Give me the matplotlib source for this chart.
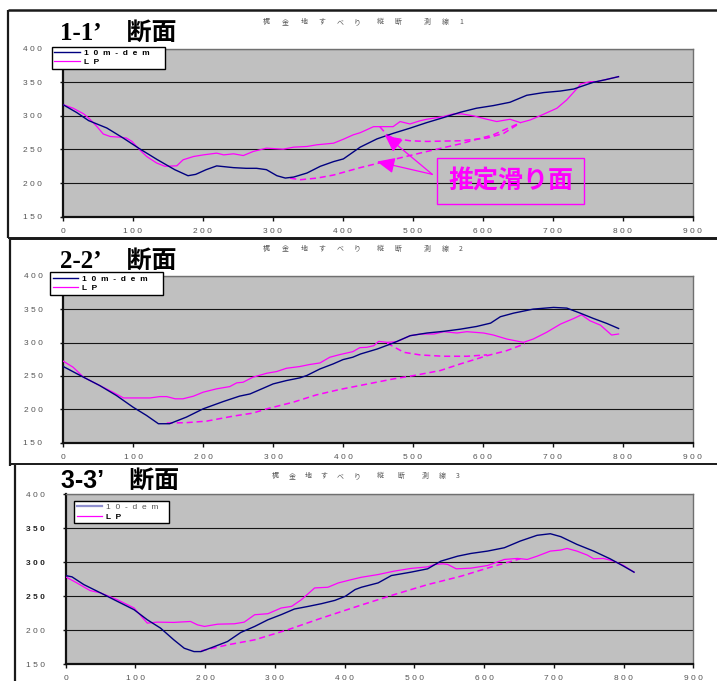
import matplotlib
matplotlib.use("Agg")
import matplotlib.pyplot as plt
from matplotlib.lines import Line2D

# ---------------------------------------------------------------- data
# Section 1-1'
s1_dem_x = [0, 20, 37, 63, 85, 110, 135, 160, 179, 190, 205, 220, 244, 262, 277, 291, 306, 318, 330,
            349, 368, 387, 401, 425, 449, 472, 496, 520, 544, 568, 591, 615, 639, 663, 687, 711, 730,
            758, 776, 794]
s1_dem_y = [317, 305, 293, 282, 268, 251, 235, 220, 211, 213, 220, 225.6, 223, 222, 222, 220, 211, 207.5,
            209, 215, 225, 232, 236, 253.5, 265.8, 274, 281.7, 290, 297.5, 305.4, 311.4, 315.3, 320.3,
            330.7, 334.7, 337, 340, 350, 354, 358.4]
s1_lp_x = [0, 15, 30, 39, 49, 58, 68, 82, 91, 99, 110, 120, 134, 146, 163, 172, 187, 201, 220, 230, 244,
           258, 272, 291, 315, 330, 349, 363, 387, 401, 415, 425, 434, 444, 453, 472, 482, 496, 510, 520,
           544, 558, 570, 587, 606, 620, 639, 654, 668, 687, 706, 720, 735, 740, 754, 763, 794]
s1_lp_y = [317, 311.4, 303, 295, 284, 273, 269.3, 268.3, 267, 262, 249.5, 239.6, 230, 225, 225.7, 234.7,
           239.6, 242, 244.6, 242, 243.6, 241, 247, 252, 250.5, 253.5, 254.5, 257, 259.4, 265.3, 271.8,
           275, 279.2, 284, 284, 284, 291.6, 288, 292.6, 295, 299, 303, 303, 300, 295, 291.6, 295, 290,
           294, 302.5, 311.4, 323.8, 341, 347.5, 351, 351, 358.4]
s1_slip_a_x = [453, 463, 472, 496, 520, 568, 606, 630, 649, 654]
s1_slip_a_y = [284, 272, 267, 263, 262, 263, 267, 274, 286.6, 290]
s1_slip_b_x = [325, 339, 363, 387, 425, 472, 520, 568, 615, 654]
s1_slip_b_y = [207.4, 205, 207.4, 212, 223, 235, 247, 258.4, 271.8, 290]

# Section 2-2'
s2_dem_x = [0, 29, 52, 76, 100, 119, 136, 152, 176, 200, 229, 252, 267, 286, 300, 319, 338, 348, 367,
            386, 400, 414, 425, 449, 472, 496, 520, 544, 568, 591, 611, 625, 644, 672, 701, 720, 739,
            758, 777, 794]
s2_dem_y = [264, 248, 235.6, 220.6, 203, 190.8, 178.4, 178.4, 188.3, 200.7, 211.7, 219.7, 223, 231.6,
            238, 243, 247, 250.5, 260.4, 268, 274.4, 278, 282.8, 290.3, 299.3, 310.2, 314.2, 316.7, 320,
            324, 329, 338.6, 344, 350, 352.5, 351.5, 344, 336, 328.6, 321]
s2_lp_x = [0, 14, 29, 52, 71, 86, 100, 124, 138, 148, 160, 171, 186, 200, 219, 238, 248, 257, 271, 291,
           305, 319, 338, 352, 367, 381, 395, 414, 424, 434, 444, 451, 463, 477, 496, 511, 530, 544, 563,
           577, 601, 615, 634, 658, 672, 691, 711, 730, 741, 753, 768, 777, 784, 794]
s2_lp_y = [272, 263, 248, 235.6, 225.6, 217, 217, 217, 219, 219, 215.7, 215.7, 219.6, 225.6, 230.6, 234,
           239.6, 240.5, 248, 254, 256.5, 261.4, 264, 267, 269.4, 277.9, 281.8, 286.3, 292.3, 292.8,
           295.3, 301.7, 300.2, 301.2, 310.2, 312.7, 312.7, 316.2, 314.2, 316.2, 314.2, 311.2, 305.2,
           300.2, 305.2, 315.2, 327.6, 336, 341.5, 332.6, 326, 317.7, 311.2, 312.7]
s2_slip_a_x = [463, 487, 511, 544, 577, 606]
s2_slip_a_y = [299, 285.3, 281.3, 279.4, 279.4, 281.5]
s2_slip_b_x = [148, 176, 205, 243, 271, 291, 329, 362, 395, 424, 472, 501, 539, 568, 606, 634, 660]
s2_slip_b_y = [179.4, 180, 182.3, 189.8, 194.3, 200.7, 210.7, 221.6, 229.6, 235.6, 245.5, 250.5, 258,
               268, 280.3, 287.8, 298]

# Section 3-3'
s3_dem_x = [0, 9, 26, 50, 74, 98, 117, 136, 155, 170, 184, 194, 213, 232, 251, 271, 290, 309, 328, 348,
            367, 386, 401, 415, 424, 448, 467, 495, 519, 538, 562, 581, 605, 629, 652, 676, 695, 710,
            733, 757, 781, 800, 815]
s3_dem_y = [280.5, 278.6, 267.2, 255, 242.6, 230.3, 215.5, 203.2, 186, 173.6, 168.7, 168.7, 176, 183.5,
            196.8, 205.7, 215.5, 223, 231.3, 235.2, 239.2, 244, 250, 259.9, 263.3, 269.7, 280.5, 285.5,
            290.4, 301.7, 309, 313, 316.5, 321.4, 331.3, 339.7, 342, 337.7, 326.4, 316.5, 305, 294.3,
            285.5]
s3_lp_x = [0, 16, 35, 50, 74, 98, 117, 131, 155, 179, 189, 199, 218, 242, 256, 271, 290, 309, 324, 338,
           357, 376, 391, 410, 424, 448, 471, 495, 519, 529, 541, 548, 560, 581, 605, 629, 648, 662, 676,
           695, 710, 719, 733, 748, 757, 771, 786, 800, 815]
s3_lp_y = [278.6, 269.7, 258.4, 255, 245, 232.8, 210.6, 212, 211.6, 213, 208, 205.7, 209, 209.6, 212,
           222.9, 224.4, 232.8, 235.2, 245, 262.3, 263.3, 269.7, 274.6, 278, 282, 287, 291, 293.3,
           296.8, 297.8, 296.8, 290.4, 291.4, 295.3, 304.2, 305.7, 304.2, 309, 316.5, 318, 320.4,
           316.5, 310.6, 305.2, 305.7, 301.7, 295.3, 285.5]
s3_slip_x = [194, 232, 271, 319, 367, 424, 471, 519, 567, 614, 652]
s3_slip_y = [169.7, 178.6, 186, 201, 218, 237.2, 252.5, 267.2, 279.6, 294.3, 305.2]

x_ticks = list(range(0, 901, 100))
y_ticks = list(range(150, 401, 50))
section_titles = ["1-1’\u3000断面", "2-2’\u3000断面", "3-3’\u3000断面"]
subtitle_chars = ["梶", "金", "地", "す", "べ", "り", "縦", "断", "測", "線"]
legend_labels = [["10m-dem", "LP"], ["10m-dem", "LP"], ["10-dem", "LP"]]
slip_label = "推定滑り面"

# ---------------------------------------------------------------- layout
W, H = 717, 681
NAVY = "#000080"
MAGENTA = "#ff00ff"
CJK = "Noto Sans CJK JP"

fig = plt.figure(figsize=(W / 100, H / 100), dpi=100)
fig.patch.set_facecolor("white")


def fx(px):
    return px / W


def fy(py):
    return 1 - py / H


def spaced(text, gap="  "):
    return gap.join(text)


def seg(x0, y0, x1, y1, lw=1.6, color="#1a1a1a"):
    fig.add_artist(Line2D([fx(x0), fx(x1)], [fy(y0), fy(y1)], color=color, lw=lw,
                          transform=fig.transFigure, solid_capstyle="butt"))


# outer frames of the three sheets
seg(8, 10, W, 10, lw=1.8)
seg(8, 10, 8, 238.5)
seg(8, 238, W, 238, lw=1.4)
seg(10, 239.5, W, 239.5, lw=1.4)
seg(10, 239, 10, 466)
seg(10, 464, W, 464, lw=1.4)
seg(15, 464.5, 15, H)


def make_axes(left, top, right, bottom, bold_values=()):
    ax = fig.add_axes([fx(left), fy(bottom), (right - left) / W, (bottom - top) / H])
    ax.set_facecolor("#c0c0c0")
    ax.set_xlim(0, 900)
    ax.set_ylim(150, 400)
    ax.set_xticks(x_ticks)
    ax.set_yticks(y_ticks)
    ax.set_xticklabels([" ".join(str(v)) for v in x_ticks])
    ax.set_yticklabels([" ".join(str(v)) for v in y_ticks])
    for lab in ax.get_xticklabels() + ax.get_yticklabels():
        lab.set_fontfamily("Liberation Sans")
        lab.set_fontsize(6)
        lab.set_color("#555555")
    for v, lab in zip(y_ticks, ax.get_yticklabels()):
        if v in bold_values:
            lab.set_fontweight("bold")
            lab.set_color("#222222")
    ax.tick_params(axis="x", direction="out", length=3, width=1, color="#111111", pad=5)
    ax.tick_params(axis="y", direction="out", length=2, width=1, color="#111111", pad=13)
    ax.yaxis.grid(True, color="#151515", lw=0.8)
    ax.set_axisbelow(True)
    for side in ("left", "bottom"):
        ax.spines[side].set_color("#111111")
        ax.spines[side].set_linewidth(1.6)
    for side in ("top", "right"):
        ax.spines[side].set_color("#707070")
        ax.spines[side].set_linewidth(1.0)
    return ax


def draw_section(ax, dem_x, dem_y, lp_x, lp_y, slips, labels, legend_xy, tail=" " * 5):
    l_dem, = ax.plot(dem_x, dem_y, color=NAVY, lw=1.0, zorder=4)
    l_lp, = ax.plot(lp_x, lp_y, color=MAGENTA, lw=0.9, zorder=3)
    for sx, sy in slips:
        ax.plot(sx, sy, color=MAGENTA, lw=1.1, ls=(0, (4, 2.5)), zorder=3)
    leg = ax.legend([l_dem, l_lp], [spaced(t) + tail for t in labels], loc="upper left",
                    bbox_to_anchor=(fx(legend_xy[0]), fy(legend_xy[1])),
                    bbox_transform=fig.transFigure, borderaxespad=0, fancybox=False,
                    framealpha=1, edgecolor="black", facecolor="white",
                    prop={"family": "Liberation Sans", "weight": "bold", "size": 6},
                    handlelength=3.0, handletextpad=0.6, labelspacing=0.2, borderpad=0.3)
    leg.get_frame().set_linewidth(1.0)
    leg.set_zorder(10)
    return leg


def header(title, title_family, title_xy, sub_xs, sub_y, number):
    fig.text(fx(title_xy[0]), fy(title_xy[1]), title, family=[title_family, CJK],
             fontweight="bold", fontsize=18, ha="left", va="baseline", color="black")
    chars = subtitle_chars + [str(number)]
    for ch, px in zip(chars, sub_xs):
        fig.text(fx(px), fy(sub_y), ch, family=[CJK, "DejaVu Sans"], fontsize=5,
                 ha="center", va="center", color="#555555")


# ---- section 1-1'
ax1 = make_axes(62.7, 48.7, 692.7, 216.7)
draw_section(ax1, s1_dem_x, s1_dem_y, s1_lp_x, s1_lp_y,
             [(s1_slip_a_x, s1_slip_a_y), (s1_slip_b_x, s1_slip_b_y)],
             legend_labels[0], (52, 46.5))
header(section_titles[0], "Liberation Serif", (60, 40),
       [266, 285, 304, 322, 340, 357, 380, 398, 427, 445, 461], 22, 1)

ax1.text(640, 203, slip_label, family=[CJK], fontweight="bold", fontsize=18, color=MAGENTA,
         ha="center", va="center", zorder=6,
         bbox=dict(boxstyle="square,pad=0.45", fc="none", ec=MAGENTA, lw=1.0))
for head in [(460, 272), (449, 232)]:
    ax1.annotate("", xy=head, xytext=(528, 213), zorder=6,
                 arrowprops=dict(arrowstyle="-|>,head_length=0.9,head_width=0.4",
                                 color=MAGENTA, lw=0.9, shrinkA=0, shrinkB=0,
                                 mutation_scale=12))

# ---- section 2-2'
ax2 = make_axes(63.3, 275.7, 692.7, 442.7)
draw_section(ax2, s2_dem_x, s2_dem_y, s2_lp_x, s2_lp_y,
             [(s2_slip_a_x, s2_slip_a_y), (s2_slip_b_x, s2_slip_b_y)],
             legend_labels[1], (50, 272.3))
header(section_titles[1], "Liberation Serif", (60, 268),
       [266, 285, 304, 322, 340, 357, 380, 398, 427, 445, 461], 248.5, 2)

# ---- section 3-3'
ax3 = make_axes(65.7, 494.3, 693.3, 664.3, bold_values=(250, 300, 350))
leg3 = draw_section(ax3, s3_dem_x, s3_dem_y, s3_lp_x, s3_lp_y,
                    [(s3_slip_x, s3_slip_y)],
                    legend_labels[2], (74, 500.7), tail=" " * 3)
leg3.get_lines()[0].set_color("#9090d0")
leg3.get_lines()[0].set_linewidth(1.6)
leg3.get_texts()[0].set_fontweight("normal")
leg3.get_texts()[0].set_color("#555555")
header(section_titles[2], "Liberation Sans", (61, 488),
       [275, 292, 308, 324, 340, 357, 380, 401, 425, 442, 458], 476, 3)

fig.savefig("out.png", dpi=100, facecolor="white")
